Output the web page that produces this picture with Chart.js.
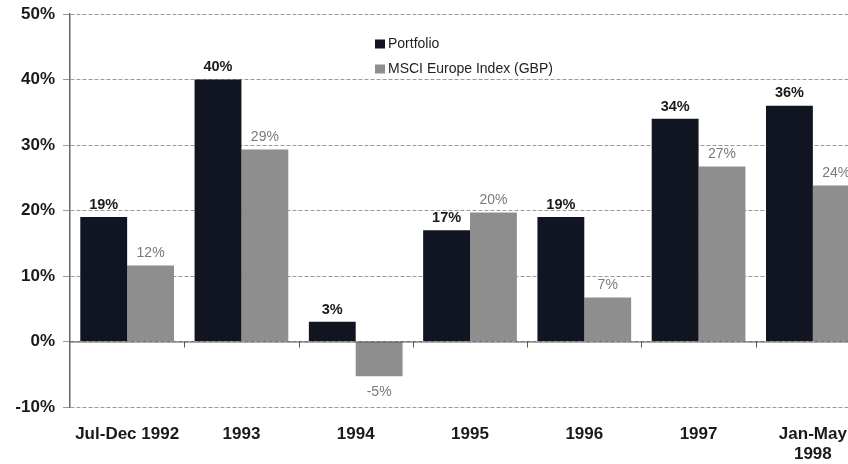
<!DOCTYPE html>
<html>
<head>
<meta charset="utf-8">
<script src="https://cdn.jsdelivr.net/npm/chart.js@4.4.1/dist/chart.umd.min.js"></script>
<style>
    html, body { margin: 0; padding: 0; background: #fff; overflow: hidden; }
    #wrap { width: 880px; height: 464px; }
</style>
</head>
<body>
<div id="wrap"><canvas id="perfChart" width="880" height="464"></canvas></div>
<script>
// Calendar returns, portfolio vs index
const periods = ['Jul-Dec 1992', '1993', '1994', '1995', '1996', '1997', ['Jan-May', '1998']];
const portfolioReturns = [19, 40, 3, 17, 19, 34, 36];
const msciReturns = [12, 29, -5, 20, 7, 27, 24];
const portfolioShown = [19, 40, 3, 17, 19, 34, 36];
const msciShown = [11.6, 29.3, -5.3, 19.7, 6.7, 26.7, 23.8];
const yTicks = [-10, 0, 10, 20, 30, 40, 50];

const FONT = "'Liberation Sans', Arial, sans-serif";
const DARK = '#111522';
const GREY = '#8e8e8e';

// value labels above / below each bar
const barLabels = {
    id: 'barLabels',
    afterDatasetsDraw(chart) {
        const ctx = chart.ctx;
        ctx.save();
        ctx.textAlign = 'center';
        chart.data.datasets.forEach((ds, di) => {
            const meta = chart.getDatasetMeta(di);
            const labels = di === 0 ? portfolioReturns : msciReturns;
            ctx.font = di === 0 ? 'bold 14.5px ' + FONT : '14px ' + FONT;
            ctx.fillStyle = di === 0 ? '#1a1a1a' : '#7a7a7a';
            meta.data.forEach((bar, i) => {
                const v = labels[i];
                if (ds.data[i] >= 0) {
                    ctx.textBaseline = 'bottom';
                    ctx.fillText(v + '%', bar.x, bar.y - 5);
                } else {
                    ctx.textBaseline = 'top';
                    ctx.fillText(v + '%', bar.x, bar.y + 9);
                }
            });
        });
        ctx.restore();
    }
};

// zero line with small ticks between categories, plus legend
const extras = {
    id: 'extras',
    afterDatasetsDraw(chart) {
        const ctx = chart.ctx;
        const x = chart.scales.x;
        const y = chart.scales.y;
        const y0 = y.getPixelForValue(0);
        ctx.save();
        ctx.strokeStyle = '#555';
        ctx.lineWidth = 1;
        ctx.beginPath();
        ctx.moveTo(chart.chartArea.left, y0 + 0.5);
        ctx.lineTo(chart.chartArea.right, y0 + 0.5);
        for (let i = 1; i < periods.length; i++) {
            const px = Math.round((x.getPixelForValue(i - 1) + x.getPixelForValue(i)) / 2) + 0.5;
            ctx.moveTo(px, y0);
            ctx.lineTo(px, y0 + 6);
        }
        ctx.stroke();

        // legend
        const lx = 375, ly = 44;
        const items = [['Portfolio', DARK], ['MSCI Europe Index (GBP)', GREY]];
        ctx.font = '14px ' + FONT;
        ctx.textBaseline = 'middle';
        ctx.textAlign = 'left';
        items.forEach((it, k) => {
            const cy = ly + k * 25;
            ctx.fillStyle = it[1];
            ctx.fillRect(lx, cy - 4.5, 10, 9);
            ctx.fillStyle = '#222';
            ctx.fillText(it[0], lx + 13, cy);
        });
        ctx.restore();
    }
};

new Chart(document.getElementById('perfChart'), {
    type: 'bar',
    data: {
        labels: periods,
        datasets: [
            {
                label: 'Portfolio',
                data: portfolioShown,
                backgroundColor: DARK,
                barPercentage: 1,
                categoryPercentage: 0.82
            },
            {
                label: 'MSCI Europe Index (GBP)',
                data: msciShown,
                backgroundColor: GREY,
                barPercentage: 1,
                categoryPercentage: 0.82
            }
        ]
    },
    options: {
        responsive: false,
        animation: false,
        layout: { padding: { top: 14, right: 10, left: 0, bottom: 0 } },
        plugins: {
            legend: { display: false },
            tooltip: { enabled: false }
        },
        scales: {
            x: {
                grid: { display: false },
                border: { display: false },
                ticks: {
                    color: '#1a1a1a',
                    font: { family: FONT, size: 17, weight: 'bold' },
                    padding: 9,
                    maxRotation: 0,
                    autoSkip: false
                },
                afterFit(scale) { scale.height = 57; }
            },
            y: {
                min: -10,
                max: 50,
                afterBuildTicks(scale) {
                    scale.ticks = yTicks.map(v => ({ value: v }));
                },
                grid: { color: '#9a9a9a', tickLength: 7 },
                border: { display: true, color: '#666', width: 1.5, dash: [4, 2] },
                ticks: {
                    color: '#1a1a1a',
                    font: { family: FONT, size: 17, weight: 'bold' },
                    padding: 8,
                    callback: v => v + '%'
                },
                afterFit(scale) {
                    scale.width = 70;
                    scale.paddingTop = 0;
                    scale.paddingBottom = 0;
                }
            }
        }
    },
    plugins: [barLabels, extras]
});
</script>
</body>
</html>
